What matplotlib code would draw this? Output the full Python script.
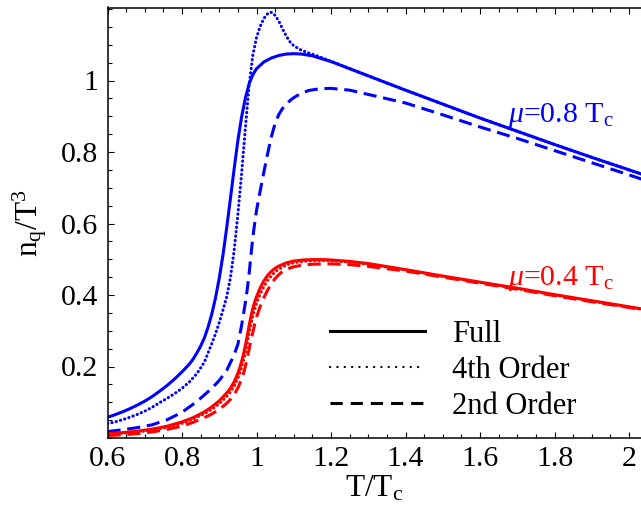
import matplotlib
matplotlib.use("Agg")
import matplotlib.pyplot as plt
from matplotlib.lines import Line2D
from matplotlib.ticker import MultipleLocator, FuncFormatter

plt.rcParams["font.family"] = ["Liberation Serif", "DejaVu Serif"]
plt.rcParams["mathtext.fontset"] = "custom"
plt.rcParams["mathtext.rm"] = "Liberation Serif"
plt.rcParams["mathtext.it"] = "Liberation Serif:italic"

# quark number density n_q/T^3 versus T/T_c
# mu = 0.8 T_c
t_b_full = [0.60, 0.62, 0.64, 0.66, 0.68, 0.70, 0.72, 0.74, 0.76, 0.78, 0.80, 0.82,
            0.83, 0.84, 0.85, 0.86, 0.87, 0.88, 0.89, 0.90, 0.91, 0.92, 0.93, 0.94,
            0.95, 0.96, 0.97, 0.98, 0.99, 1.00, 1.02, 1.04, 1.06, 1.08, 1.10, 1.12,
            1.15, 1.20, 1.30, 1.40, 1.50, 1.60, 1.70, 1.80, 1.90, 2.00, 2.04]
n_b_full = [0.058, 0.065, 0.073, 0.082, 0.092, 0.103, 0.116, 0.131, 0.147, 0.165, 0.185, 0.207,
            0.221, 0.238, 0.257, 0.280, 0.310, 0.347, 0.392, 0.447, 0.512, 0.588, 0.670, 0.753,
            0.832, 0.898, 0.950, 0.990, 1.016, 1.033, 1.052, 1.063, 1.070, 1.074, 1.075, 1.074,
            1.069, 1.053, 1.013, 0.973, 0.934, 0.895, 0.858, 0.821, 0.785, 0.750, 0.736]

t_b_4th = [0.60, 0.62, 0.64, 0.66, 0.68, 0.70, 0.72, 0.74, 0.76, 0.78, 0.80, 0.82,
           0.84, 0.86, 0.87, 0.88, 0.89, 0.90, 0.91, 0.92, 0.93, 0.94, 0.95, 0.96,
           0.97, 0.98, 0.99, 1.00, 1.01, 1.02, 1.03, 1.036, 1.042, 1.05, 1.06, 1.07,
           1.08, 1.09, 1.10, 1.12, 1.14, 1.16, 1.18, 1.20, 1.30, 1.40, 1.50, 1.60,
           1.70, 1.80, 1.90, 2.00, 2.04]
n_b_4th = [0.040, 0.045, 0.051, 0.058, 0.066, 0.075, 0.086, 0.099, 0.111, 0.124, 0.139, 0.157,
           0.180, 0.212, 0.238, 0.264, 0.292, 0.323, 0.358, 0.395, 0.448, 0.525, 0.625, 0.740,
           0.865, 0.985, 1.070, 1.120, 1.152, 1.174, 1.187, 1.191, 1.190, 1.182, 1.166, 1.144,
           1.124, 1.108, 1.097, 1.085, 1.077, 1.070, 1.062, 1.054, 1.013, 0.973, 0.934, 0.895,
           0.858, 0.821, 0.785, 0.750, 0.736]

t_b_2nd = [0.60, 0.64, 0.68, 0.72, 0.76, 0.80, 0.84, 0.88, 0.90, 0.92, 0.94, 0.95,
           0.96, 0.97, 0.975, 0.98, 0.985, 0.99, 0.995, 1.00, 1.01, 1.02, 1.03, 1.04,
           1.05, 1.06, 1.07, 1.08, 1.09, 1.10, 1.12, 1.14, 1.17, 1.20, 1.25, 1.30,
           1.40, 1.50, 1.60, 1.70, 1.80, 1.90, 2.00, 2.04]
n_b_2nd = [0.018, 0.023, 0.029, 0.037, 0.051, 0.072, 0.102, 0.139, 0.161, 0.189, 0.233, 0.262,
           0.315, 0.378, 0.415, 0.458, 0.510, 0.560, 0.600, 0.636, 0.692, 0.745, 0.796, 0.843,
           0.880, 0.905, 0.922, 0.934, 0.944, 0.952, 0.964, 0.972, 0.977, 0.978, 0.973, 0.961,
           0.937, 0.904, 0.870, 0.838, 0.804, 0.770, 0.736, 0.722]

# mu = 0.4 T_c
t_r = [0.60, 0.64, 0.68, 0.72, 0.76, 0.80, 0.83, 0.86, 0.88, 0.90, 0.91, 0.92,
       0.93, 0.94, 0.95, 0.955, 0.96, 0.965, 0.97, 0.975, 0.98, 0.985, 0.99, 0.995,
       1.00, 1.01, 1.02, 1.03, 1.04, 1.05, 1.06, 1.08, 1.10, 1.125, 1.15, 1.18,
       1.20, 1.25, 1.30, 1.40, 1.50, 1.60, 1.70, 1.80, 1.90, 2.00, 2.04]
n_r_full = [0.012, 0.015, 0.019, 0.025, 0.033, 0.045, 0.057, 0.073, 0.087, 0.104, 0.115, 0.126,
            0.139, 0.157, 0.181, 0.196, 0.214, 0.234, 0.258, 0.285, 0.313, 0.340, 0.362, 0.380,
            0.395, 0.420, 0.440, 0.455, 0.466, 0.475, 0.481, 0.490, 0.495, 0.498, 0.499, 0.499,
            0.498, 0.494, 0.488, 0.471, 0.453, 0.436, 0.419, 0.401, 0.384, 0.367, 0.360]
n_r_4th = [0.010, 0.013, 0.017, 0.022, 0.030, 0.041, 0.053, 0.068, 0.080, 0.096, 0.106, 0.116,
           0.129, 0.145, 0.167, 0.181, 0.197, 0.216, 0.239, 0.264, 0.292, 0.318, 0.340, 0.359,
           0.376, 0.403, 0.424, 0.441, 0.454, 0.465, 0.472, 0.484, 0.490, 0.494, 0.496, 0.496,
           0.496, 0.492, 0.486, 0.470, 0.452, 0.435, 0.418, 0.400, 0.383, 0.366, 0.359]

t_r_2nd = [0.60, 0.64, 0.68, 0.72, 0.76, 0.80, 0.83, 0.86, 0.88, 0.90, 0.92, 0.93,
           0.94, 0.95, 0.96, 0.965, 0.97, 0.975, 0.98, 0.985, 0.99, 0.995, 1.00, 1.01,
           1.02, 1.03, 1.04, 1.05, 1.06, 1.07, 1.08, 1.10, 1.12, 1.15, 1.18, 1.20,
           1.25, 1.30, 1.40, 1.50, 1.60, 1.70, 1.80, 1.90, 2.00, 2.04]
n_r_2nd = [0.007, 0.009, 0.012, 0.017, 0.024, 0.033, 0.044, 0.057, 0.067, 0.080, 0.097, 0.108,
           0.121, 0.140, 0.165, 0.180, 0.200, 0.222, 0.248, 0.272, 0.295, 0.318, 0.338, 0.368,
           0.393, 0.414, 0.431, 0.446, 0.457, 0.466, 0.472, 0.479, 0.483, 0.486, 0.487, 0.487,
           0.485, 0.480, 0.467, 0.450, 0.433, 0.416, 0.398, 0.381, 0.365, 0.358]

x_ticks = [0.6, 0.8, 1.0, 1.2, 1.4, 1.6, 1.8, 2.0]
y_ticks = [0.2, 0.4, 0.6, 0.8, 1.0]
legend_labels = ["Full", "4th Order", "2nd Order"]
curve_labels = [r"$\mathit{\mu}$=0.8 T$_\mathregular{c}$", r"$\mathit{\mu}$=0.4 T$_\mathregular{c}$"]

BLUE = "#0000ff"
RED = "#ff0000"
LW = 2.2
DOT = (0, (0.1, 1.35))
DASH = (0, (4.3, 2.2))

fig = plt.figure(figsize=(6.41, 5.08), dpi=100)
ax = fig.add_axes([107.5 / 641, 70 / 508, 533.5 / 641, 430.5 / 508])

ax.plot(t_b_full, n_b_full, color=BLUE, lw=LW, solid_capstyle="butt", solid_joinstyle="round")
ax.plot(t_b_4th, n_b_4th, color=BLUE, lw=LW, ls=DOT, dash_capstyle="round")
ax.plot(t_b_2nd, n_b_2nd, color=BLUE, lw=LW, ls=DASH, dash_capstyle="butt")
ax.plot(t_r, n_r_full, color=RED, lw=LW, solid_capstyle="butt", solid_joinstyle="round")
ax.plot(t_r, n_r_4th, color=RED, lw=LW, ls=DOT, dash_capstyle="round")
ax.plot(t_r_2nd, n_r_2nd, color=RED, lw=LW, ls=DASH, dash_capstyle="butt")

ax.set_xlim(0.6, 0.6 + 533.5 / 372.5)
ax.set_ylim(0, 430.5 / 357.5)

ax.set_xticks(x_ticks)
ax.set_yticks(y_ticks)
ax.xaxis.set_minor_locator(MultipleLocator(0.05))
ax.yaxis.set_minor_locator(MultipleLocator(0.05))
fmt = FuncFormatter(lambda v, p: "%g" % round(v, 3))
ax.xaxis.set_major_formatter(fmt)
ax.yaxis.set_major_formatter(fmt)
ax.tick_params(which="both", direction="in", top=True, right=False, width=0.8)
ax.tick_params(which="major", length=4.5, labelsize=21.5)
ax.tick_params(which="minor", length=2.6)
ax.tick_params(axis="x", which="major", pad=6)
ax.tick_params(axis="y", which="major", pad=7)
for side in ("left", "bottom", "top"):
    ax.spines[side].set_linewidth(1.1)
ax.spines["right"].set_visible(False)

ax.set_xlabel(r"T/T$_\mathregular{c}$", fontsize=22.5, labelpad=1)
ax.set_ylabel(r"n$_\mathregular{q}$/T$^\mathregular{3}$", fontsize=22.5, labelpad=8)

ax.text(1.675, 0.884, curve_labels[0], color=BLUE, fontsize=21.5, va="baseline")
ax.text(1.675, 0.429, curve_labels[1], color=RED, fontsize=21.5, va="baseline")

handles = [
    Line2D([], [], color="black", lw=LW),
    Line2D([], [], color="black", lw=1.6, ls=(0, (0.1, 3.2)), dash_capstyle="round"),
    Line2D([], [], color="black", lw=LW, ls=(0, (4.0, 2.6))),
]
ax.legend(handles, legend_labels, loc="center left", bbox_to_anchor=(0.417, 0.1575),
          frameon=False, fontsize=22, handlelength=3.1, handletextpad=0.9,
          labelspacing=0.235, borderpad=0, borderaxespad=0)

fig.savefig("out.png", dpi=100)
